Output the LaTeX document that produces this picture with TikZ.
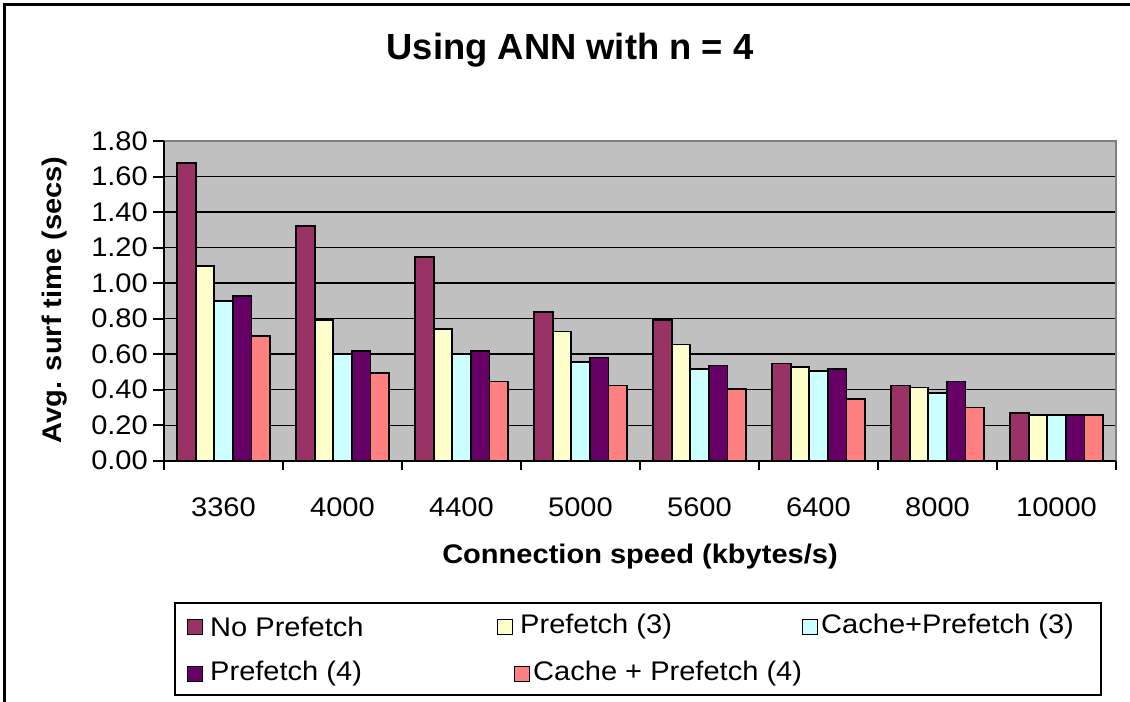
\documentclass[tikz,border=0pt]{standalone}
\usepackage{fontspec}
\setmainfont{Liberation Sans}
\newfontfamily\labfont[FakeStretch=1.08]{Liberation Sans}
\definecolor{cNP}{HTML}{993366}
\definecolor{cPA}{HTML}{FFFFCC}
\definecolor{cCA}{HTML}{CCFFFF}
\definecolor{cPB}{HTML}{660066}
\definecolor{cCB}{HTML}{FF8080}
\definecolor{plotbg}{HTML}{C0C0C0}
\definecolor{plotedge}{HTML}{808080}
\tikzset{
  bar/.style={draw=black,line width=1.8bp},
  grid line/.style={draw=black,line width=1.3bp},
  axis line/.style={draw=black,line width=2bp},
  lab/.style={font=\labfont\fontsize{27}{31}\selectfont,inner sep=0pt},
  boldlab/.style={font=\labfont\bfseries\fontsize{27}{31}\selectfont,inner sep=0pt},
  legsq/.style={draw=black,line width=1.5bp,minimum size=15bp,inner sep=0pt},
}
\begin{document}
\begin{tikzpicture}[x=1bp,y=-1bp]
\useasboundingbox (0,0) rectangle (1130,702);
\fill[white] (0,0) rectangle (1130,702);
% outer frame (only top and left edges visible)
\draw[line width=3bp] (4.5,720) -- (4.5,5) -- (1140,5);
% title
\node[font=\bfseries\fontsize{36.5}{42}\selectfont,inner sep=0pt] (title) at (570,50) {Using ANN with n = 4};
% plot area
\fill[plotbg] (164,141) rectangle (1116,460.7);
\foreach \v in {0.2,0.4,...,1.61} {
  \draw[grid line] (164,{460.7-177.6*\v}) -- (1116,{460.7-177.6*\v});
}
\draw[draw=plotedge,line width=2bp] (164,141) -- (1116,141) -- (1116,460.7);
% bars
\def\drawgroup#1#2#3#4#5#6{%
  \pgfmathsetmacro{\gx}{164+119*#1+13}
  \foreach \val/\col [count=\j from 0] in {#2/cNP,#3/cPA,#4/cCA,#5/cPB,#6/cCB} {
    \filldraw[bar,fill=\col] ({\gx+18.6*\j},460.7) rectangle ({\gx+18.6*(\j+1)},{460.7-177.6*\val});
  }%
}
\drawgroup{0}{1.674}{1.097}{0.897}{0.929}{0.704}
\drawgroup{1}{1.322}{0.792}{0.603}{0.618}{0.494}
\drawgroup{2}{1.146}{0.742}{0.603}{0.618}{0.446}
\drawgroup{3}{0.839}{0.727}{0.558}{0.581}{0.423}
\drawgroup{4}{0.794}{0.654}{0.515}{0.536}{0.403}
\drawgroup{5}{0.547}{0.528}{0.506}{0.517}{0.348}
\drawgroup{6}{0.423}{0.412}{0.382}{0.446}{0.300}
\drawgroup{7}{0.270}{0.257}{0.257}{0.257}{0.257}
% axes
\draw[axis line] (164,141) -- (164,460.7) -- (1116,460.7);
\foreach \v/\t [count=\k] in {0/0.00,0.2/0.20,0.4/0.40,0.6/0.60,0.8/0.80,1.0/1.00,1.2/1.20,1.4/1.40,1.6/1.60,1.8/1.80} {
  \draw[axis line] (153,{460.7-177.6*\v}) -- (164,{460.7-177.6*\v});
  \node[lab,anchor=east] (yt\k) at (148,{460.7-177.6*\v}) {\t};
}
\foreach \i in {0,...,8} {
  \draw[axis line] ({164+119*\i},460.7) -- ({164+119*\i},469.5);
}
\foreach \c [count=\i from 0] in {3360,4000,4400,5000,5600,6400,8000,10000} {
  \node[lab] (xt\i) at ({164+119*\i+59.5},507) {\c};
}
% axis titles
\node[boldlab] (xtitle) at (640,557) {Connection speed (kbytes/s)};
\node[boldlab,rotate=90] (ytitle) at (55,300) {Avg. surf time (secs)};
% legend
\draw[line width=2bp,fill=white] (175,603) rectangle (1101,695);
\node[legsq,fill=cNP] (l1) at (195,627) {};
\node[lab,anchor=west] (t1) at (210,627) {No Prefetch};
\node[legsq,fill=cPA] (l2) at (505,627) {};
\node[lab,anchor=west] (t2) at (520,627) {Prefetch (3)};
\node[legsq,fill=cCA] (l3) at (810,627) {};
\node[lab,anchor=west] (t3) at (821,627) {Cache+Prefetch (3)};
\node[legsq,fill=cPB] (l4) at (195,674) {};
\node[lab,anchor=west] (t4) at (210,674) {Prefetch (4)};
\node[legsq,fill=cCB] (l5) at (522,674) {};
\node[lab,anchor=west] (t5) at (533,674) {Cache + Prefetch (4)};
\end{tikzpicture}
\end{document}
